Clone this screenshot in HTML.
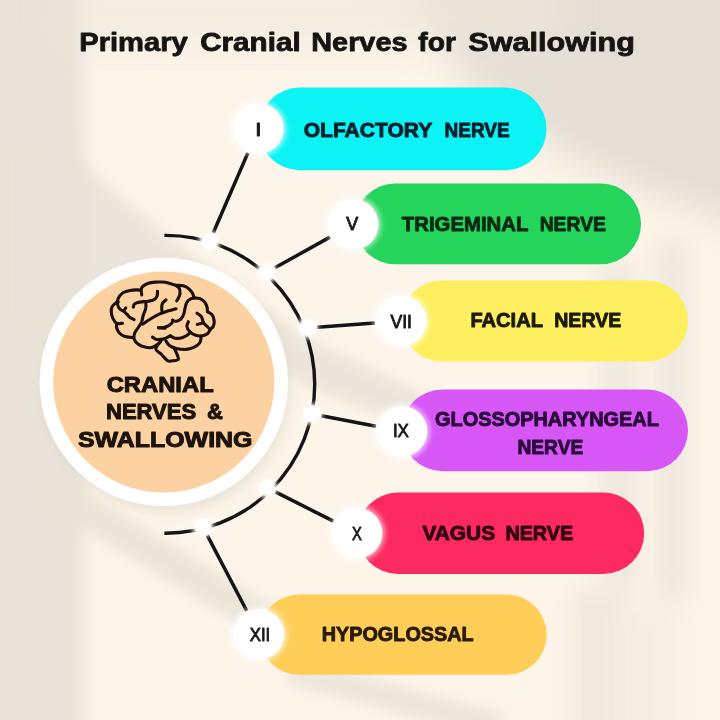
<!DOCTYPE html>
<html><head><meta charset="utf-8"><title>Primary Cranial Nerves for Swallowing</title>
<style>
html,body{margin:0;padding:0;background:#fbf3e7;}
body{width:720px;height:720px;overflow:hidden;font-family:"Liberation Sans",sans-serif;}
svg{display:block}
text{font-family:"Liberation Sans",sans-serif}
</style></head><body>
<svg width="720" height="720" viewBox="0 0 720 720">
<defs>
<linearGradient id="bgL" x1="0" y1="0" x2="1" y2="0">
<stop offset="0" stop-color="#ede6dc"/><stop offset="0.09" stop-color="#ebe4da"/><stop offset="0.155" stop-color="#fbf3e8" stop-opacity="0"/>
</linearGradient>
<filter id="blur6" x="-50%" y="-50%" width="200%" height="200%"><feGaussianBlur stdDeviation="6"/></filter>
<filter id="blur3" x="-50%" y="-50%" width="200%" height="200%"><feGaussianBlur stdDeviation="2.5"/></filter>
<filter id="blur12" x="-50%" y="-50%" width="200%" height="200%"><feGaussianBlur stdDeviation="11"/></filter>
<filter id="blur07" x="-50%" y="-50%" width="200%" height="200%"><feGaussianBlur stdDeviation="0.7"/></filter>
<filter id="blur8" x="-50%" y="-50%" width="200%" height="200%"><feGaussianBlur stdDeviation="8"/></filter>
<filter id="blur1" x="-50%" y="-50%" width="200%" height="200%"><feGaussianBlur stdDeviation="1.2"/></filter>
<filter id="blur20" x="-50%" y="-50%" width="200%" height="200%"><feGaussianBlur stdDeviation="18"/></filter>
</defs>
<rect width="720" height="720" fill="#fdf5ea"/>

<g id="bg">
<rect x="-40" y="-40" width="125" height="800" fill="#eae3d9" filter="url(#blur8)"/>
<polygon points="60,140 104,181 167,235 240,292 313,340 420,392 470,420 470,455 420,430 313,390 240,350 100,330 0,330 0,140" fill="#e9e2d8" filter="url(#blur6)" opacity="0.8"/>
<polygon points="370,-60 780,-60 780,240 640,190 555,150 465,80" fill="#e5ded4" filter="url(#blur20)"/>
<rect x="60" y="-30" width="500" height="75" fill="#efe8de" filter="url(#blur20)" opacity="0.7"/>
<polygon points="31.1,497.9 291.1,656.5 308.9,627.5 48.9,468.9" fill="#eae3d8" filter="url(#blur6)" opacity="0.85"/>
<polygon points="286.4,683.8 496.4,740.5 503.6,713.5 293.6,656.8" fill="#eae3d8" filter="url(#blur6)" opacity="0.8"/>
<rect x="655" y="240" width="34" height="360" fill="#ebe4da" filter="url(#blur12)" opacity="0.8"/>
<rect x="572" y="590" width="52" height="180" fill="#ece5da" filter="url(#blur12)" opacity="0.8"/>
<rect x="620" y="600" width="60" height="180" fill="#f1eadf" filter="url(#blur12)" opacity="0.6"/>
<rect x="598" y="262" width="40" height="330" fill="#ebe4da" filter="url(#blur12)" opacity="0.7"/>
</g>
<g opacity="0.999"><text x="79.28" y="51.0" font-size="25.5" font-weight="bold" fill="#161412" stroke="#161412" stroke-width="0.8" stroke-linejoin="round" textLength="108.43" lengthAdjust="spacingAndGlyphs">Primary</text>
<text x="200.17" y="51.0" font-size="25.5" font-weight="bold" fill="#161412" stroke="#161412" stroke-width="0.8" stroke-linejoin="round" textLength="100.48" lengthAdjust="spacingAndGlyphs">Cranial</text>
<text x="311.30" y="51.0" font-size="25.5" font-weight="bold" fill="#161412" stroke="#161412" stroke-width="0.8" stroke-linejoin="round" textLength="96.17" lengthAdjust="spacingAndGlyphs">Nerves</text>
<text x="418.26" y="51.0" font-size="25.5" font-weight="bold" fill="#161412" stroke="#161412" stroke-width="0.8" stroke-linejoin="round" textLength="37.74" lengthAdjust="spacingAndGlyphs">for</text>
<text x="468.22" y="51.0" font-size="25.5" font-weight="bold" fill="#161412" stroke="#161412" stroke-width="0.8" stroke-linejoin="round" textLength="166.64" lengthAdjust="spacingAndGlyphs">Swallowing</text></g>
<rect x="258.5" y="87.6" width="288.0" height="82.6" rx="41.3" fill="#0bf3f5"/>
<rect x="355.0" y="183.5" width="286.0" height="80.7" rx="40.3" fill="#25d45b"/>
<rect x="401.2" y="280.4" width="286.8" height="81.0" rx="40.5" fill="#fdef60"/>
<rect x="401.5" y="389.6" width="286.5" height="81.6" rx="40.8" fill="#d656f6"/>
<rect x="357.3" y="492.6" width="286.9" height="81.3" rx="40.6" fill="#fc2a60"/>
<rect x="259.0" y="594.4" width="287.7" height="80.4" rx="40.2" fill="#fece58"/>
<path d="M164.371 235.407 A148.900 148.900 0 1 1 164.371 533.193" fill="none" stroke="#141414" stroke-width="3.4" stroke-linecap="butt"/>
<line x1="213.3" y1="232.7" x2="247.9" y2="152.9" stroke="#141414" stroke-width="3.5" stroke-linecap="butt"/>
<line x1="274.9" y1="267.8" x2="330.0" y2="237.1" stroke="#141414" stroke-width="3.5" stroke-linecap="butt"/>
<line x1="317.3" y1="327.2" x2="374.7" y2="323.0" stroke="#141414" stroke-width="3.5" stroke-linecap="butt"/>
<line x1="321.4" y1="415.8" x2="375.9" y2="426.3" stroke="#141414" stroke-width="3.5" stroke-linecap="butt"/>
<line x1="275.4" y1="491.9" x2="333.3" y2="521.1" stroke="#141414" stroke-width="3.5" stroke-linecap="butt"/>
<line x1="207.3" y1="535.4" x2="246.7" y2="610.8" stroke="#141414" stroke-width="3.5" stroke-linecap="butt"/>
<circle cx="209.4" cy="241.7" r="10.5" fill="#fdf7ee" filter="url(#blur3)"/>
<circle cx="209.4" cy="241.7" r="8.3" fill="#ffffff" filter="url(#blur1)"/>
<circle cx="266.3" cy="272.6" r="10.5" fill="#fdf7ee" filter="url(#blur3)"/>
<circle cx="266.3" cy="272.6" r="8.3" fill="#ffffff" filter="url(#blur1)"/>
<circle cx="307.5" cy="327.9" r="10.5" fill="#fdf7ee" filter="url(#blur3)"/>
<circle cx="307.5" cy="327.9" r="8.3" fill="#ffffff" filter="url(#blur1)"/>
<circle cx="311.8" cy="413.9" r="10.5" fill="#fdf7ee" filter="url(#blur3)"/>
<circle cx="311.8" cy="413.9" r="8.3" fill="#ffffff" filter="url(#blur1)"/>
<circle cx="266.7" cy="487.5" r="10.5" fill="#fdf7ee" filter="url(#blur3)"/>
<circle cx="266.7" cy="487.5" r="8.3" fill="#ffffff" filter="url(#blur1)"/>
<circle cx="202.8" cy="526.7" r="10.5" fill="#fdf7ee" filter="url(#blur3)"/>
<circle cx="202.8" cy="526.7" r="8.3" fill="#ffffff" filter="url(#blur1)"/>
<circle cx="165.8" cy="388.0" r="125.2" fill="#ddd3c5" filter="url(#blur6)" opacity="0.5"/>
<circle cx="163.8" cy="382.0" r="124.2" fill="#ffffff" filter="url(#blur07)"/>
<circle cx="163.8" cy="382.0" r="110.6" fill="#fdd2a3" filter="url(#blur07)"/>
<circle cx="258.5" cy="128.5" r="28" fill="#ffffff" opacity="0.6" filter="url(#blur3)"/>
<circle cx="258.5" cy="128.5" r="25.4" fill="#ffffff" filter="url(#blur07)"/>
<circle cx="353.2" cy="224.2" r="28" fill="#ffffff" opacity="0.6" filter="url(#blur3)"/>
<circle cx="353.2" cy="224.2" r="25.4" fill="#ffffff" filter="url(#blur07)"/>
<circle cx="401.2" cy="321.0" r="28" fill="#ffffff" opacity="0.6" filter="url(#blur3)"/>
<circle cx="401.2" cy="321.0" r="25.4" fill="#ffffff" filter="url(#blur07)"/>
<circle cx="402.0" cy="431.4" r="28" fill="#ffffff" opacity="0.6" filter="url(#blur3)"/>
<circle cx="402.0" cy="431.4" r="25.4" fill="#ffffff" filter="url(#blur07)"/>
<circle cx="357.0" cy="533.1" r="28" fill="#ffffff" opacity="0.6" filter="url(#blur3)"/>
<circle cx="357.0" cy="533.1" r="25.4" fill="#ffffff" filter="url(#blur07)"/>
<circle cx="259.0" cy="634.4" r="28" fill="#ffffff" opacity="0.6" filter="url(#blur3)"/>
<circle cx="259.0" cy="634.4" r="25.4" fill="#ffffff" filter="url(#blur07)"/>
<g opacity="0.999"><text x="303.69" y="136.7" font-size="21.0" font-weight="bold" fill="#08202e" stroke="#08202e" stroke-width="0.9" stroke-linejoin="round" textLength="128.48" lengthAdjust="spacingAndGlyphs">OLFACTORY</text>
<text x="444.46" y="136.7" font-size="21.0" font-weight="bold" fill="#08202e" stroke="#08202e" stroke-width="0.9" stroke-linejoin="round" textLength="65.29" lengthAdjust="spacingAndGlyphs">NERVE</text>
<text x="401.85" y="230.7" font-size="21.0" font-weight="bold" fill="#0a2a14" stroke="#0a2a14" stroke-width="0.9" stroke-linejoin="round" textLength="126.55" lengthAdjust="spacingAndGlyphs">TRIGEMINAL</text>
<text x="539.64" y="230.7" font-size="21.0" font-weight="bold" fill="#0a2a14" stroke="#0a2a14" stroke-width="0.9" stroke-linejoin="round" textLength="66.32" lengthAdjust="spacingAndGlyphs">NERVE</text>
<text x="470.40" y="326.6" font-size="21.0" font-weight="bold" fill="#1c1a08" stroke="#1c1a08" stroke-width="0.9" stroke-linejoin="round" textLength="72.50" lengthAdjust="spacingAndGlyphs">FACIAL</text>
<text x="554.23" y="326.6" font-size="21.0" font-weight="bold" fill="#1c1a08" stroke="#1c1a08" stroke-width="0.9" stroke-linejoin="round" textLength="67.04" lengthAdjust="spacingAndGlyphs">NERVE</text>
<text x="435.03" y="426.3" font-size="21.0" font-weight="bold" fill="#2a0b3a" stroke="#2a0b3a" stroke-width="0.9" stroke-linejoin="round" textLength="223.86" lengthAdjust="spacingAndGlyphs">GLOSSOPHARYNGEAL</text>
<text x="517.45" y="454.3" font-size="21.0" font-weight="bold" fill="#2a0b3a" stroke="#2a0b3a" stroke-width="0.9" stroke-linejoin="round" textLength="65.81" lengthAdjust="spacingAndGlyphs">NERVE</text>
<text x="422.45" y="539.7" font-size="21.0" font-weight="bold" fill="#2f0612" stroke="#2f0612" stroke-width="0.9" stroke-linejoin="round" textLength="72.65" lengthAdjust="spacingAndGlyphs">VAGUS</text>
<text x="505.42" y="539.7" font-size="21.0" font-weight="bold" fill="#2f0612" stroke="#2f0612" stroke-width="0.9" stroke-linejoin="round" textLength="67.65" lengthAdjust="spacingAndGlyphs">NERVE</text>
<text x="321.71" y="641.2" font-size="21.0" font-weight="bold" fill="#2a1a08" stroke="#2a1a08" stroke-width="0.9" stroke-linejoin="round" textLength="151.98" lengthAdjust="spacingAndGlyphs">HYPOGLOSSAL</text>
<text x="106.66" y="391.7" font-size="22.6" font-weight="bold" fill="#1b130c" stroke="#1b130c" stroke-width="1.0" stroke-linejoin="round" textLength="107.05" lengthAdjust="spacingAndGlyphs">CRANIAL</text>
<text x="106.02" y="418.5" font-size="22.6" font-weight="bold" fill="#1b130c" stroke="#1b130c" stroke-width="1.0" stroke-linejoin="round" textLength="90.16" lengthAdjust="spacingAndGlyphs">NERVES</text>
<text x="207.01" y="418.5" font-size="22.6" font-weight="bold" fill="#1b130c" stroke="#1b130c" stroke-width="1.0" stroke-linejoin="round" textLength="15.91" lengthAdjust="spacingAndGlyphs">&amp;</text>
<text x="78.01" y="446.7" font-size="22.6" font-weight="bold" fill="#1b130c" stroke="#1b130c" stroke-width="1.0" stroke-linejoin="round" textLength="174.46" lengthAdjust="spacingAndGlyphs">SWALLOWING</text>
<text x="255.38" y="135.8" font-size="17.6" font-weight="normal" fill="#1a1a1a" stroke="#1a1a1a" stroke-width="0.85" stroke-linejoin="round" textLength="6.22" lengthAdjust="spacingAndGlyphs">I</text>
<text x="346.23" y="229.8" font-size="17.6" font-weight="normal" fill="#1a1a1a" stroke="#1a1a1a" stroke-width="0.85" stroke-linejoin="round" textLength="11.96" lengthAdjust="spacingAndGlyphs">V</text>
<text x="390.43" y="327.5" font-size="17.6" font-weight="normal" fill="#1a1a1a" stroke="#1a1a1a" stroke-width="0.85" stroke-linejoin="round" textLength="21.54" lengthAdjust="spacingAndGlyphs">VII</text>
<text x="392.90" y="437.2" font-size="17.6" font-weight="normal" fill="#1a1a1a" stroke="#1a1a1a" stroke-width="0.85" stroke-linejoin="round" textLength="16.06" lengthAdjust="spacingAndGlyphs">IX</text>
<text x="351.99" y="540.3" font-size="17.6" font-weight="normal" fill="#1a1a1a" stroke="#1a1a1a" stroke-width="0.85" stroke-linejoin="round" textLength="9.84" lengthAdjust="spacingAndGlyphs">X</text>
<text x="249.76" y="640.7" font-size="17.6" font-weight="normal" fill="#1a1a1a" stroke="#1a1a1a" stroke-width="0.85" stroke-linejoin="round" textLength="20.53" lengthAdjust="spacingAndGlyphs">XII</text></g>
<g fill="none" stroke="#1c1008" stroke-width="3.1" stroke-linecap="round" stroke-linejoin="round">
<path d="M122.5 323.2 C121.5 323.2 118.3 324.1 116.7 323.3 C115.1 322.5 113.8 320.2 112.9 318.3 C112.0 316.4 111.4 313.6 111.3 311.7 C111.2 309.8 111.3 308.2 112.1 306.7 C112.8 305.2 114.8 303.7 115.8 302.9 C116.8 302.1 117.8 302.0 118.2 301.8"/>
<path d="M116.7 323.3 C116.7 324.1 116.3 326.4 116.7 328.0 C117.1 329.6 118.0 331.3 119.2 332.7 C120.5 334.1 121.9 335.4 124.2 336.2 C126.5 337.0 131.4 337.4 132.8 337.6"/>
<path d="M141.7 295.0 C141.6 294.3 141.8 291.5 140.9 290.6 C140.0 289.8 137.8 289.9 136.0 289.9 C134.2 289.9 132.1 290.0 130.0 290.4 C127.9 290.8 125.1 291.4 123.3 292.5 C121.5 293.6 120.2 295.2 119.2 296.7 C118.2 298.2 117.6 299.9 117.5 301.7 C117.4 303.5 117.7 306.0 118.7 307.5 C119.7 309.0 122.1 310.7 123.3 310.8 C124.5 310.9 125.4 308.4 125.8 307.9"/>
<path d="M123.3 310.8 C123.9 311.4 126.0 313.3 127.1 314.4 C128.2 315.5 128.8 316.6 130.0 317.5 C131.2 318.4 133.5 319.2 134.2 319.6"/>
<path d="M140.9 290.6 C141.2 290.0 141.3 287.9 142.5 286.7 C143.7 285.5 146.2 284.1 148.3 283.3 C150.4 282.5 152.7 282.3 155.0 282.1 C157.3 281.9 159.8 281.9 162.0 282.0 C164.2 282.1 166.0 282.3 168.3 282.9 C170.6 283.5 174.6 285.0 175.8 285.4"/>
<path d="M175.8 285.4 C176.4 285.9 178.5 287.0 179.2 288.3 C179.9 289.6 180.1 291.8 180.0 293.3 C179.9 294.8 179.2 296.2 178.7 297.5 C178.1 298.8 177.0 300.2 176.7 300.8"/>
<path d="M175.8 285.4 C177.1 285.5 181.1 285.2 183.3 285.8 C185.5 286.4 187.7 287.9 189.2 289.2 C190.7 290.4 191.7 291.9 192.5 293.3 C193.3 294.8 193.9 297.1 194.2 297.9"/>
<path d="M194.2 297.9 C193.5 298.1 191.2 298.4 190.0 299.2 C188.8 300.0 187.5 301.0 186.7 302.5 C185.9 304.0 185.5 306.4 185.0 308.3 C184.5 310.2 184.4 312.4 183.7 314.2 C183.0 316.0 182.0 318.0 180.8 319.2 C179.6 320.4 178.1 321.0 176.7 321.2 C175.3 321.4 173.3 320.5 172.6 320.4"/>
<path d="M172.8 320.2 C172.6 320.8 172.6 322.5 171.4 323.6 C170.2 324.7 167.7 326.3 165.6 327.0 C163.5 327.7 159.8 327.8 158.7 328.0"/>
<path d="M194.2 297.9 C195.2 298.0 198.2 297.9 200.0 298.7 C201.8 299.5 203.8 301.0 205.0 302.5 C206.2 304.0 206.7 306.0 207.1 307.5 C207.5 309.0 207.4 311.0 207.5 311.7"/>
<path d="M207.5 311.7 C208.3 312.2 211.1 313.3 212.2 314.9 C213.3 316.4 214.0 319.1 214.2 321.0 C214.4 322.9 213.8 325.1 213.2 326.5 C212.5 327.9 210.8 328.9 210.3 329.4"/>
<path d="M197.0 313.2 C197.8 313.8 200.4 315.2 201.5 316.8 C202.6 318.4 202.4 320.8 203.5 322.6 C204.6 324.4 207.2 326.4 208.3 327.5 C209.4 328.6 210.0 329.1 210.3 329.4"/>
<path d="M197.2 324.4 C198.2 324.1 202.4 323.1 203.5 322.8"/>
<path d="M188.4 321.7 C188.2 322.5 186.7 324.8 186.9 326.5 C187.2 328.2 188.4 330.4 189.9 331.9 C191.4 333.4 193.6 334.6 195.7 335.3 C197.8 336.0 200.6 336.1 202.5 335.8 C204.4 335.6 206.1 334.9 207.4 333.8 C208.7 332.7 209.8 330.1 210.3 329.4"/>
<path d="M133.3 307.1 C133.5 306.6 133.4 304.7 134.5 303.9 C135.6 303.1 137.7 302.6 140.0 302.1 C142.3 301.7 145.9 301.6 148.3 301.2 C150.7 300.8 152.7 300.5 154.2 299.6 C155.7 298.7 156.5 297.2 157.1 295.8 C157.7 294.4 157.4 292.0 157.5 291.2"/>
<path d="M145.8 302.0 C145.8 303.1 146.2 306.1 145.8 308.3 C145.4 310.5 144.0 312.8 143.3 315.0 C142.6 317.2 142.5 319.6 141.7 321.7 C140.9 323.8 139.5 325.6 138.3 327.5 C137.1 329.4 135.3 331.4 134.6 333.3 C133.9 335.2 133.6 337.4 134.2 339.2 C134.8 341.0 136.5 342.9 138.3 344.2 C140.1 345.5 142.8 346.6 145.0 347.1 C147.2 347.7 149.8 347.9 151.7 347.5 C153.6 347.1 155.2 346.0 156.7 345.0 C158.2 344.0 160.0 342.0 160.7 341.4"/>
<path d="M142.5 324.2 C144.0 323.2 148.9 320.0 151.7 318.3 C154.5 316.6 157.0 315.3 159.2 314.2 C161.4 313.1 162.2 312.8 165.0 311.9 C167.8 311.0 174.2 309.3 176.0 308.8"/>
<path d="M166.0 299.8 C165.4 300.4 163.2 301.9 162.5 303.3 C161.8 304.7 161.7 306.8 161.7 308.3 C161.7 309.9 162.2 311.9 162.3 312.6"/>
<path d="M158.3 327.5 C159.4 327.6 163.9 328.2 165.0 328.3"/>
<path d="M152.5 337.1 C153.1 337.5 154.6 338.8 155.8 339.2 C157.1 339.6 158.5 339.5 160.0 339.4 C161.5 339.3 162.9 339.3 164.6 338.7 C166.3 338.1 169.4 336.3 170.4 335.8"/>
<path d="M170.4 335.8 C171.2 336.2 173.4 337.9 175.3 338.2 C177.2 338.5 180.0 338.3 182.1 337.7 C184.2 337.1 186.6 335.8 187.9 334.8 C189.2 333.8 189.6 332.4 189.9 331.9"/>
<path d="M166.0 341.1 C166.6 341.8 167.7 344.3 169.4 345.5 C171.1 346.7 173.4 347.8 176.2 348.4 C179.0 349.0 183.1 349.6 186.0 349.4 C188.9 349.2 191.4 348.4 193.7 347.4 C196.0 346.3 198.4 344.6 199.6 343.1 C200.8 341.6 200.8 339.4 201.0 338.2 C201.2 337.0 200.7 336.4 200.6 336.0"/>
<path d="M160.7 341.4 C159.9 342.6 155.8 346.8 155.8 348.9 C155.8 350.9 158.8 351.8 160.7 353.7 C162.6 355.6 165.6 359.4 167.5 360.6 C169.4 361.8 170.6 361.0 172.4 360.8 C174.2 360.6 177.4 360.6 178.2 359.6 C179.0 358.6 177.8 356.6 177.2 354.7 C176.5 352.8 174.8 349.3 174.3 348.2"/>
</g>
</svg></body></html>
